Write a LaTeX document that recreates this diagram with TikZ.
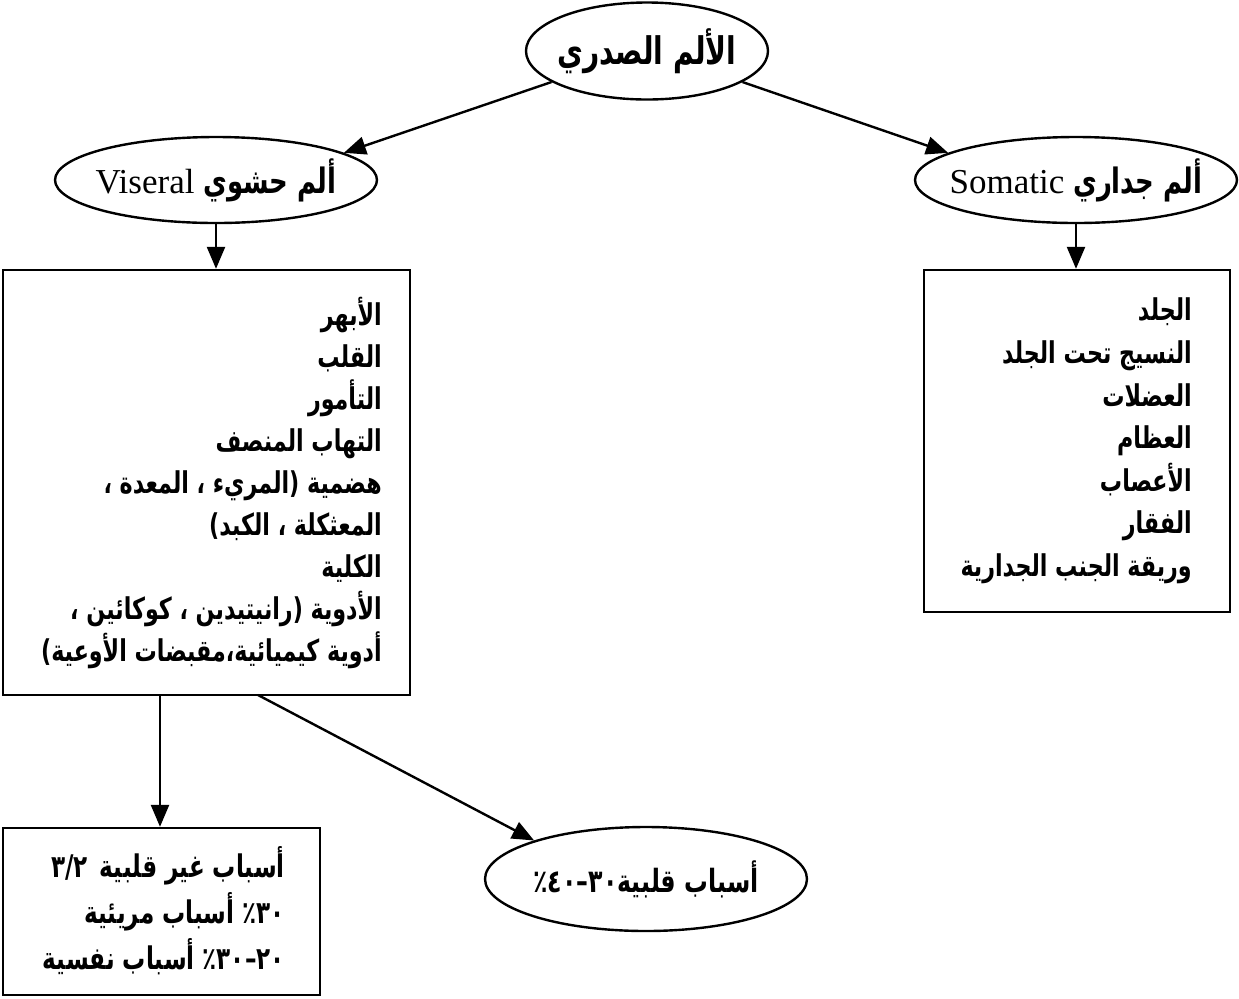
\documentclass[tikz,border=0pt]{standalone}
\usepackage{fontspec}
\setmainfont{Liberation Serif}
\newfontfamily\ar[Script=Arabic,FakeStretch=0.74]{DejaVu Sans}
\TeXXeTstate=1
\usetikzlibrary{shapes.geometric,arrows.meta}
\newcommand{\dg}[1]{\hbox{\ar\bfseries #1}}
\begin{document}
\begin{tikzpicture}[x=0.5pt,y=-0.5pt,line width=1.2pt,
  ell/.style={draw,ellipse,inner sep=0pt},
  box/.style={draw,rectangle,inner sep=0pt},
  arr/.style={-{Triangle[length=11pt,width=9pt]}},
  txt/.style={inner sep=0pt,align=right,font=\ar\bfseries\fontsize{15}{21}\selectfont}]
\useasboundingbox (0,0) rectangle (1239,998);
\fill[white] (0,0) rectangle (1239,998);

% ellipses
\node[ell,minimum width=121pt,minimum height=48.5pt] (top) at (647,51)
  {\makebox[0pt]{\ar\bfseries\fontsize{19}{22}\selectfont\beginR الألم الصدري\endR}};
\node[ell,minimum width=161pt,minimum height=43pt] (left) at (216,180)
  {\makebox[0pt]{\ar\bfseries\fontsize{17.5}{20}\selectfont\beginR ألم حشوي \beginL{\rmfamily\mdseries\fontsize{17.5}{20}\selectfont Viseral}\endL\endR}};
\node[ell,minimum width=161pt,minimum height=43pt] (right) at (1076,180)
  {\makebox[0pt]{\ar\bfseries\fontsize{17.5}{20}\selectfont\beginR ألم جداري \beginL{\rmfamily\mdseries\fontsize{17.5}{20}\selectfont Somatic}\endL\endR}};
\node[ell,minimum width=161pt,minimum height=52pt] (bell) at (646,879)
  {\makebox[0pt]{\ar\bfseries\fontsize{16}{20}\selectfont\beginR أسباب قلبية\beginL\dg{٪}\dg{٤}\dg{٠}\dg{–}\dg{٣}\dg{٠}\endL\endR}};

% boxes
\node[box,minimum width=203.5pt,minimum height=212.5pt] (lbox) at (206.5,482.5) {};
\node[box,minimum width=153pt,minimum height=171pt] (rbox) at (1077,441) {};
\node[box,minimum width=158.5pt,minimum height=83.5pt] (blbox) at (161.5,911.5) {};

% box texts
\node[txt,anchor=east] (ltxt) at (383,483) {%
\beginR الأبهر\endR\\
\beginR القلب\endR\\
\beginR التأمور\endR\\
\beginR التهاب المنصف\endR\\
\beginR هضمية (المريء ، المعدة ،\endR\\
\beginR المعثكلة ، الكبد)\endR\\
\beginR الكلية\endR\\
\beginR الأدوية (رانيتيدين ، كوكائين ،\endR\\
\beginR أدوية كيميائية،مقبضات الأوعية)\endR};

\node[txt,anchor=east,font=\ar\bfseries\fontsize{15}{21.3}\selectfont] (rtxt) at (1193,441) {%
\beginR الجلد\endR\\
\beginR النسيج تحت الجلد\endR\\
\beginR العضلات\endR\\
\beginR العظام\endR\\
\beginR الأعصاب\endR\\
\beginR الفقار\endR\\
\beginR وريقة الجنب الجدارية\endR};

\node[txt,anchor=east,font=\ar\bfseries\fontsize{15.6}{23}\selectfont] (btxt) at (286,911) {%
\beginR أسباب غير قلبية\hspace{6pt}\beginL\dg{٣}\dg{/}\dg{٢}\endL\endR\\
\beginR\beginL\dg{٪}\dg{٣}\dg{٠}\endL\ أسباب مريئية\endR\\
\beginR\beginL\dg{٪}\dg{٣}\dg{٠}\dg{–}\dg{٢}\dg{٠}\endL\ أسباب نفسية\endR};

% connectors
\draw[arr] (top.198) -- (left.12);
\draw[arr] (top.-18) -- (right.168);
\draw[arr] (left.south) -- (left.south |- lbox.north);
\draw[arr] (right.south) -- (right.south |- rbox.north);
\coordinate (d1) at (160,695);
\coordinate (d2) at (258,695);
\draw[arr] (d1) -- (d1 |- blbox.north);
\draw[arr] (d2) -- (bell.161);
\end{tikzpicture}
\end{document}
